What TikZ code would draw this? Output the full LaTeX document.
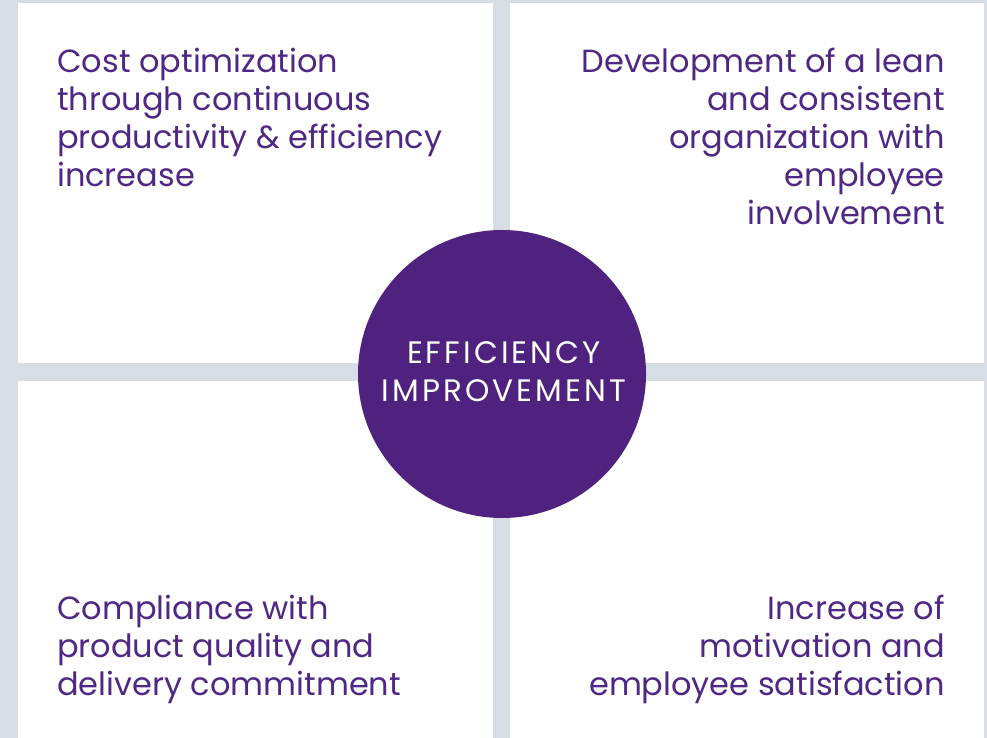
\documentclass[tikz,border=0pt]{standalone}
\usepackage{fontspec}
\setmainfont{Poppins}
\newfontfamily\widecaps[LetterSpace=10]{Poppins}
\definecolor{BackGray}{RGB}{214, 221, 229}
\definecolor{DeepPurple}{RGB}{79, 34, 128}
\definecolor{TextPurple}{RGB}{78, 40, 132}
\usetikzlibrary{positioning}

\begin{document}
\begin{tikzpicture}[x=1pt, y=-1pt,
    panel/.style={fill=white, draw=none, anchor=north west, inner sep=0pt},
    bubble/.style={circle, fill=DeepPurple, minimum size=288pt, inner sep=0pt},
    bubbletext/.style={text=white, align=center, inner sep=0pt, font=\widecaps\fontsize{31}{38}\selectfont},
    paneltext/.style={text=TextPurple, inner sep=0pt, font=\fontsize{32}{38}\selectfont}]
    \fill[BackGray] (0,0) rectangle (987,738);
    \useasboundingbox (0,0) rectangle (987,738);
    \node[panel, minimum width=475pt, minimum height=360pt] (tl) at (18,3) {};
    \node[panel, minimum width=474pt, minimum height=360pt] (tr) at (510,3) {};
    \node[panel, minimum width=475pt, minimum height=357pt] (bl) at (18,381) {};
    \node[panel, minimum width=474pt, minimum height=357pt] (br) at (510,381) {};
    \node[bubble] (core) at (502,374) {};
    \node[bubbletext, anchor=base] (coretext) at (504,401) {EFFICIENCY\\IMPROVEMENT};
    \node[paneltext, align=left, anchor=base west] (cost) at (57,186) {Cost optimization\\through continuous\\productivity \& efficiency\\increase};
    \node[paneltext, align=right, anchor=base east] (lean) at (945,224) {Development of a lean\\and consistent\\organization with\\employee\\involvement};
    \node[paneltext, align=left, anchor=base west] (quality) at (57,695) {Compliance with\\product quality and\\delivery commitment};
    \node[paneltext, align=right, anchor=base east] (motiv) at (945,695) {Increase of\\motivation and\\employee satisfaction};
\end{tikzpicture}
\end{document}
